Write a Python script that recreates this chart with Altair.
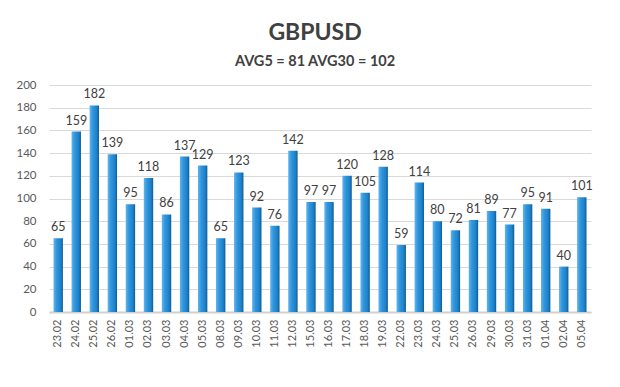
import altair as alt
import pandas as pd

dates = ["23.02", "24.02", "25.02", "26.02", "01.03", "02.03", "03.03", "04.03", "05.03", "08.03",
         "09.03", "10.03", "11.03", "12.03", "15.03", "16.03", "17.03", "18.03", "19.03", "22.03",
         "23.03", "24.03", "25.03", "26.03", "29.03", "30.03", "31.03", "01.04", "02.04", "05.04"]
values = [65, 159, 182, 139, 95, 118, 86, 137, 129, 65,
          123, 92, 76, 142, 97, 97, 120, 105, 128, 59,
          114, 80, 72, 81, 89, 77, 95, 91, 40, 101]
y_ticks = list(range(0, 201, 20))
title_text = "GBPUSD"
subtitle_text = "AVG5 = 81 AVG30 = 102"

df = pd.DataFrame({"date": dates, "value": values})

FONT = "Lato"

x_enc = alt.X(
    "date:N", sort=dates, title=None,
    scale=alt.Scale(paddingInner=0.48, paddingOuter=0.25),
    axis=alt.Axis(labelAngle=270, labelFontSize=11, labelColor="#595959", labelFont=FONT,
                  labelPadding=7, ticks=False, domain=True, domainColor="#d0d0d0",
                  domainWidth=2, grid=False),
)
y_enc = alt.Y(
    "value:Q", title=None,
    scale=alt.Scale(domain=[0, 200], nice=False),
    axis=alt.Axis(values=y_ticks, tickCount=11, labelFontSize=11.5, labelColor="#595959",
                  labelFont=FONT, labelPadding=13, labelOverlap=False, ticks=False,
                  domain=False, grid=True, gridColor="#d9d9d9", gridWidth=1),
)

grad = alt.Gradient(
    gradient="linear",
    stops=[
        alt.GradientStop(color="#62b4ec", offset=0),
        alt.GradientStop(color="#2f95dc", offset=0.35),
        alt.GradientStop(color="#1d82ca", offset=0.75),
        alt.GradientStop(color="#0f5c94", offset=1),
    ],
    x1=0, x2=1, y1=0, y2=0,
)

bars = alt.Chart(df).mark_bar(color=grad).encode(x=x_enc, y=y_enc)
labels = alt.Chart(df).mark_text(
    baseline="bottom", dy=-4, fontSize=12.5, color="#404040", font=FONT
).encode(x=x_enc, y=y_enc, text="value:Q")

chart = alt.layer(bars, labels).properties(
    width=542,
    height=227,
    padding={"left": 41, "top": 77, "right": 21, "bottom": 60},
    autosize=alt.AutoSizeParams(type="none"),
    background="white",
    title=alt.TitleParams(
        text=title_text, subtitle=subtitle_text,
        font=FONT, fontSize=23, fontWeight="bold", color="#404040",
        subtitleFont=FONT, subtitleFontSize=14.5, subtitleFontWeight="bold",
        subtitleColor="#404040", subtitlePadding=10,
        anchor="middle", frame="group", offset=11, dx=-5,
    ),
).configure_view(stroke="transparent", strokeWidth=0)

chart.save("out.html", embed_options={"renderer": "svg", "actions": False})
